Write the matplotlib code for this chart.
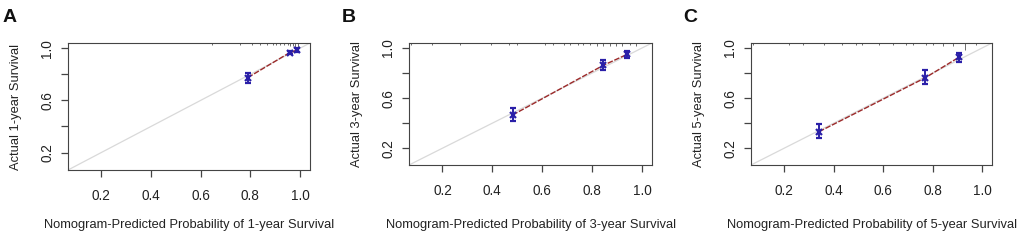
import matplotlib
matplotlib.use("Agg")
import matplotlib.pyplot as plt
import matplotlib.transforms as mtransforms

plt.rcParams['font.family'] = ['Liberation Sans', 'DejaVu Sans']

# calibration points (predicted, observed, CI lower, CI upper)
pred_1y = [0.790, 0.958, 0.987]
obs_1y = [0.775, 0.966, 0.985]
lo_1y = [0.735, 0.955, 0.970]
hi_1y = [0.810, 0.978, 0.998]

pred_3y = [0.481, 0.845, 0.941]
obs_3y = [0.465, 0.862, 0.950]
lo_3y = [0.420, 0.822, 0.923]
hi_3y = [0.518, 0.902, 0.976]

pred_5y = [0.341, 0.770, 0.908]
obs_5y = [0.332, 0.762, 0.928]
lo_5y = [0.280, 0.711, 0.889]
hi_5y = [0.393, 0.823, 0.960]

# rug of predicted probabilities along the top (position, relative height)
rug_1y = [0.647, 0.76, 0.806, 0.84, 0.867, 0.89, 0.905, 0.92, 0.935, 0.95, 0.96, 0.97, 0.98, 0.99]
rugh_1y = [1, 1, 1, 1, 1, 1, 1, 1, 1, 1, 1.5, 1.5, 2, 2]
rug_3y = [0.073, 0.158, 0.27, 0.395, 0.468, 0.5, 0.61, 0.645, 0.686, 0.712, 0.745, 0.764,
          0.79, 0.818, 0.844, 0.87, 0.897, 0.92, 0.95, 0.976]
rugh_3y = [1, 1, 1, 1, 1, 1, 1, 1, 1, 1, 1, 1, 1, 1.5, 1.5, 1.5, 1.5, 1.5, 1, 2]
rug_5y = [0.075, 0.218, 0.278, 0.36, 0.435, 0.489, 0.516, 0.583, 0.638, 0.692, 0.719,
          0.773, 0.8, 0.841, 0.882, 0.929, 0.976]
rugh_5y = [1, 1, 1, 1, 1, 1, 1, 1, 1, 1, 1, 1, 1, 1.5, 1.5, 4, 1]

letters = ['A', 'B', 'C']
years = ['1', '3', '5']

W, H = 1021, 240
fig = plt.figure(figsize=(W / 100, H / 100), dpi=100)

# box edges in pixels: left, right, top, bottom
boxes = [(68, 310, 43, 170), (409, 652, 43, 165), (751, 992, 43, 165)]
letter_x = [3, 342, 683]

panels = [
    (pred_1y, obs_1y, lo_1y, hi_1y, rug_1y, rugh_1y),
    (pred_3y, obs_3y, lo_3y, hi_3y, rug_3y, rugh_3y),
    (pred_5y, obs_5y, lo_5y, hi_5y, rug_5y, rugh_5y),
]

lim = (0.066, 1.04)
blue = '#2a1fa8'

for i, (px, py, lo, hi, rug, rugh) in enumerate(panels):
    l, r, t, b = boxes[i]
    ax = fig.add_axes([l / W, 1 - b / H, (r - l) / W, (b - t) / H])
    ax.set_xlim(lim)
    ax.set_ylim(lim)

    # ideal line
    ax.plot(lim, lim, color='#d9d9d9', lw=0.9, zorder=1)
    # apparent / bias-corrected line
    ax.plot(px, py, color='#9c2a2a', lw=1.0, ls=(0, (4, 1.2)), zorder=2)
    yerr = [[o - a for o, a in zip(py, lo)], [c - o for o, c in zip(py, hi)]]
    ax.errorbar(px, py, yerr=yerr, fmt='x', color=blue, ms=5, mew=1.6,
                elinewidth=1.4, capsize=2.5, capthick=1.4, zorder=3)

    trans = mtransforms.blended_transform_factory(ax.transData, ax.transAxes)
    ax.vlines(rug, [1 - 0.014 * h for h in rugh], 1.0, color='#555555', lw=0.6,
              transform=trans, zorder=2)

    for s in ax.spines.values():
        s.set_color('#444444')
        s.set_linewidth(0.8)

    ax.set_xticks([0.2, 0.4, 0.6, 0.8, 1.0])
    ax.set_xticklabels(['0.2', '0.4', '0.6', '0.8', '1.0'])
    ax.set_yticks([0.2, 0.4, 0.6, 0.8, 1.0])
    ax.set_yticklabels(['0.2', '', '0.6', '', '1.0'], rotation=90, va='center')
    ax.tick_params(axis='both', length=5, width=0.9, color='#444444',
                   labelsize=9.8, labelcolor='#222222')
    ax.tick_params(axis='x', pad=9)
    ax.tick_params(axis='y', pad=5)

    fig.text((l + r) / 2 / W, 1 - 225 / H,
             'Nomogram-Predicted Probability of %s-year Survival' % years[i],
             ha='center', va='center', fontsize=9.3, color='#222222')
    fig.text((l - 52) / W, 1 - ((t + b) / 2) / H, 'Actual %s-year Survival' % years[i],
             ha='center', va='center', rotation=90, fontsize=9.3, color='#222222')
    fig.text(letter_x[i] / W, 1 - 17 / H, letters[i], ha='left', va='center',
             fontsize=14, fontweight='bold', color='#111111')

fig.savefig('out.png', dpi=100)
